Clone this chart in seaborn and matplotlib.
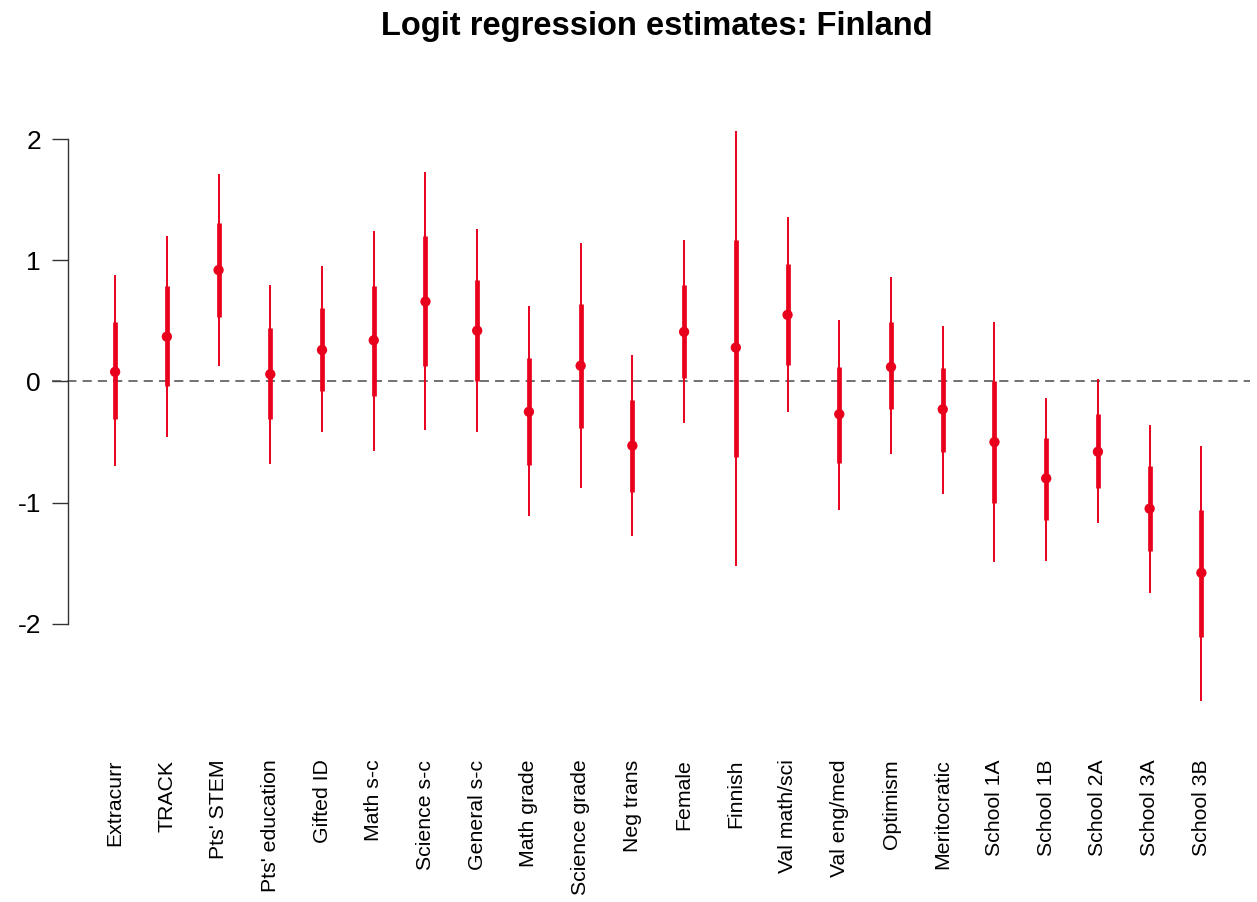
import numpy as np
import pandas as pd
import matplotlib
matplotlib.use("Agg")
import matplotlib.pyplot as plt
import seaborn as sns

terms = ["Extracurr", "TRACK", "Pts' STEM", "Pts' education", "Gifted ID",
         "Math s-c", "Science s-c", "General s-c", "Math grade", "Science grade",
         "Neg trans", "Female", "Finnish", "Val math/sci", "Val eng/med",
         "Optimism", "Meritocratic", "School 1A", "School 1B", "School 2A",
         "School 3A", "School 3B"]
estimate = [0.08, 0.37, 0.92, 0.06, 0.26, 0.34, 0.66, 0.42, -0.25, 0.13,
            -0.53, 0.41, 0.28, 0.55, -0.27, 0.12, -0.23, -0.50, -0.80, -0.58,
            -1.05, -1.58]
inner_lo = [-0.31, -0.04, 0.53, -0.31, -0.08, -0.12, 0.13, 0.00, -0.69, -0.38,
            -0.91, 0.03, -0.62, 0.14, -0.67, -0.23, -0.58, -1.00, -1.14, -0.88,
            -1.40, -2.11]
inner_hi = [0.49, 0.79, 1.31, 0.44, 0.61, 0.79, 1.20, 0.84, 0.19, 0.64,
            -0.15, 0.80, 1.17, 0.97, 0.12, 0.49, 0.11, 0.00, -0.47, -0.27,
            -0.70, -1.06]
outer_lo = [-0.70, -0.46, 0.13, -0.68, -0.42, -0.57, -0.40, -0.42, -1.11, -0.88,
            -1.28, -0.34, -1.52, -0.25, -1.06, -0.60, -0.93, -1.49, -1.48, -1.17,
            -1.75, -2.64]
outer_hi = [0.88, 1.20, 1.71, 0.80, 0.95, 1.24, 1.73, 1.26, 0.62, 1.14,
            0.22, 1.17, 2.07, 1.36, 0.51, 0.86, 0.46, 0.49, -0.14, 0.02,
            -0.36, -0.53]
y_ticks = [-2, -1, 0, 1, 2]

df = pd.DataFrame({"term": terms, "est": estimate,
                   "lo50": inner_lo, "hi50": inner_hi,
                   "lo95": outer_lo, "hi95": outer_hi})
df["pos"] = np.arange(len(df))

sns.set_theme(style="white")
plt.rcParams["font.family"] = ["Liberation Sans", "DejaVu Sans"]
plt.rcParams["text.color"] = "black"

W, H = 1257, 902
fig = plt.figure(figsize=(W / 100, H / 100), dpi=100)
ax = fig.add_axes([52 / W, 1 - 724 / H, (1250 - 52) / W, (724 - 108) / H])

red = "#e8001c"
ax.axhline(0, color="#4a4a4a", lw=1.1, ls=(0, (6, 4)), zorder=1)
ax.vlines(df["pos"], df["lo95"], df["hi95"], color=red, lw=1.4, zorder=2)
ax.vlines(df["pos"], df["lo50"], df["hi50"], color=red, lw=3.4, zorder=3)
sns.scatterplot(data=df, x="pos", y="est", color=red, s=55, edgecolor="none",
                ax=ax, zorder=4, legend=False)

ymin = min(outer_lo)
ymax = max(outer_hi)
span = ymax - ymin
ax.set_ylim(ymin - 0.04 * span, ymax + 0.04 * span)
ax.set_xlim(-1.22, len(terms) - 1 + 0.94)

ax.set_xticks(df["pos"])
ax.set_xticklabels(terms, rotation=90, va="top", ha="center")
ax.set_yticks(y_ticks)
ax.set_yticklabels([str(t) for t in y_ticks])
ax.set_xlabel("")
ax.set_ylabel("")

for side in ["top", "right", "bottom"]:
    ax.spines[side].set_visible(False)
ax.spines["left"].set_bounds(-2, 2)
ax.spines["left"].set_color("#333333")
ax.spines["left"].set_linewidth(1.0)
ax.spines["left"].set_position(("outward", -11.5))
ax.tick_params(axis="y", direction="out", length=11.5, width=1.0,
               color="#333333", pad=8, left=True, labelsize=19,
               labelcolor="black")
ax.tick_params(axis="x", length=0, pad=25.6, labelsize=15.3,
               labelcolor="black")

fig.suptitle("Logit regression estimates: Finland", fontsize=23.5,
             fontweight="bold", color="black", x=657 / W, y=1 - 11 / H,
             va="top")

fig.savefig("out.png", dpi=100, facecolor="white")
